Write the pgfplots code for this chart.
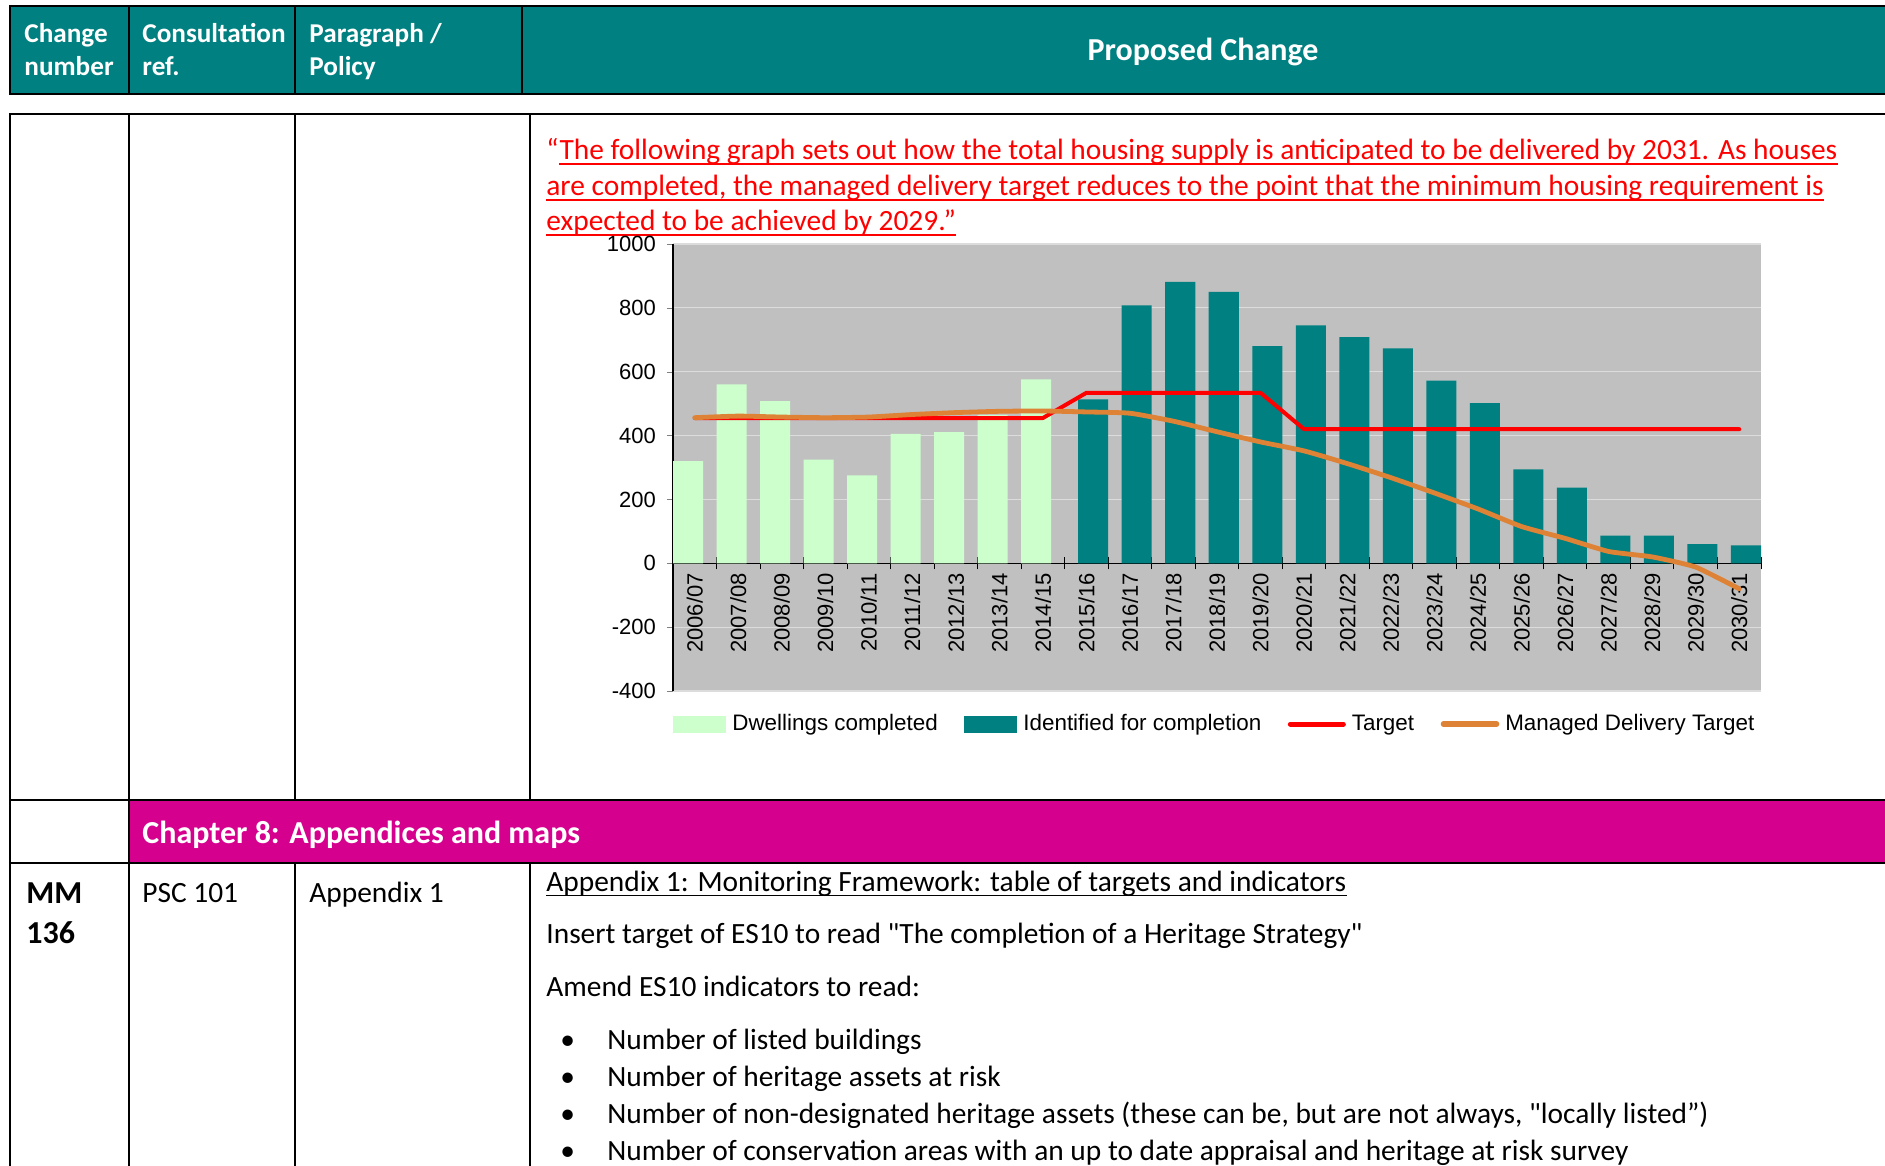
\documentclass[border=0pt]{standalone}
\usepackage{fontspec}
\setmainfont{Carlito}[Ligatures=TeXOff]
\newfontfamily\arialfont{Liberation Sans}
\usepackage{pgfplots}
\pgfplotsset{compat=1.18}
\definecolor{hdrteal}{HTML}{008080}
\definecolor{barteal}{HTML}{008080}
\definecolor{lightgreen}{HTML}{CCFFCC}
\definecolor{chartgray}{HTML}{C0C0C0}
\definecolor{gridc}{HTML}{DCDCDC}
\definecolor{magentabar}{HTML}{D6008F}
\definecolor{mdtorange}{HTML}{DE8236}
\newcommand\chartfont{\arialfont\fontsize{11}{13}\selectfont}
\newcommand\legfont{\arialfont\fontsize{11.2}{13}\selectfont}
\newcommand\hdrfont{\fontsize{13.6}{16.6}\selectfont\bfseries\color{white}}
\newcommand\bodyfont{\fontsize{14.7}{17.9}\selectfont}

\begin{document}
\begin{tikzpicture}
\begin{scope}[x=0.5pt,y=-0.5pt,txt/.style={anchor=base west,inner sep=0pt}]
\useasboundingbox (0,0) rectangle (1885,1166);
% header row
\fill[hdrteal] (10,6) rectangle (1895,94);
\draw[line width=1.3pt] (1895,6) -- (10,6) -- (10,94) -- (1895,94);
\foreach \xx in {129,295,522} \draw[line width=1.3pt] (\xx,6) -- (\xx,94);
\node[txt] at (24,43) {\hdrfont Change};
\node[txt] at (24,76) {\hdrfont number};
\node[txt] at (142,43) {\hdrfont Consultation};
\node[txt] at (142,76) {\hdrfont ref.};
\node[txt] at (309,43) {\hdrfont Paragraph /};
\node[txt] at (309,76) {\hdrfont Policy};
\node[anchor=base,inner sep=0pt] at (1203,61) {\fontsize{16}{19.5}\selectfont\bfseries\color{white}Proposed Change};
% body row with chart
\draw[line width=1.3pt] (1895,114) -- (10,114) -- (10,1175);
\foreach \xx in {129,295,530} \draw[line width=1.3pt] (\xx,114) -- (\xx,800);
% red text
\node[txt] (q1) at (546,160) {\bodyfont\color{red}“};
\node[txt] (r1) at (q1.base east) {\bodyfont\color{red}The following graph sets out how the total housing supply is anticipated to be delivered by 2031. As houses};
\node[txt] (r2) at (546,196) {\bodyfont\color{red}are completed, the managed delivery target reduces to the point that the minimum housing requirement is};
\node[txt] (r3) at (546,231) {\bodyfont\color{red}expected to be achieved by 2029.”};
\foreach \nn in {r1,r2,r3} \draw[red,line width=0.9pt] ([yshift=-2.2pt]\nn.base west) -- ([yshift=-2.2pt]\nn.base east);
% magenta row
\fill[magentabar] (129,800) rectangle (1895,863);
\draw[line width=1.3pt] (10,800) -- (1895,800);
\draw[line width=1.3pt] (10,863) -- (1895,863);
\draw[line width=1.3pt] (129,800) -- (129,863);
\node[txt] at (142,843) {\fontsize{16}{19.5}\selectfont\bfseries\color{white}Chapter 8: Appendices and maps};
% last row
\foreach \xx in {129,295,530} \draw[line width=1.3pt] (\xx,863) -- (\xx,1175);
\node[txt] at (26,903) {\fontsize{16}{19.5}\selectfont\bfseries MM};
\node[txt] at (26,943) {\fontsize{16}{19.5}\selectfont\bfseries 136};
\node[txt] at (142,902) {\bodyfont PSC 101};
\node[txt] at (309,902) {\bodyfont Appendix 1};
\node[txt] (ap) at (546,891) {\bodyfont Appendix 1: Monitoring Framework: table of targets and indicators};
\draw[line width=0.9pt] ([yshift=-2.2pt]ap.base west) -- ([yshift=-2.2pt]ap.base east);
\node[txt] at (546,943) {\bodyfont Insert target of ES10 to read "The completion of a Heritage Strategy"};
\node[txt] at (546,996) {\bodyfont Amend ES10 indicators to read:};
\foreach \yy/\tt in {1049/Number of listed buildings,1086/Number of heritage assets at risk,1123/{Number of non-designated heritage assets (these can be, but are not always, "locally listed”)},1160/Number of conservation areas with an up to date appraisal and heritage at risk survey}{
  \node[txt] at (560,\yy) {\bodyfont •};
  \node[txt] at (607,\yy) {\bodyfont \tt};
}
\end{scope}

\begin{axis}[
  at={(336.5pt,-122pt)}, anchor=north west,
  scale only axis, width=544pt, height=223.5pt,
  xmin=-0.5, xmax=24.5, ymin=-400, ymax=1000,
  axis background/.style={fill=chartgray},
  axis x line*=middle, axis y line*=left,
  hide obscured x ticks=false, hide obscured y ticks=false,
  ytick={-400,-200,...,1000},
  ytick align=outside, major tick length=3pt,
  xtick={0,...,24},
  xticklabels={2006/07,2007/08,2008/09,2009/10,2010/11,2011/12,2012/13,2013/14,2014/15,2015/16,2016/17,2017/18,2018/19,2019/20,2020/21,2021/22,2022/23,2023/24,2024/25,2025/26,2026/27,2027/28,2028/29,2029/30,2030/31},
  major x tick style={draw=none},
  minor xtick={-0.5,0.5,...,24.5},
  minor x tick style={black,line width=0.5pt},
  minor tick length=6pt, xtick align=center,
  ymajorgrids, major y grid style={gridc,line width=0.6pt},
  tick label style={font=\chartfont},
  /pgf/number format/assume math mode=true,
  /pgf/number format/1000 sep={},
  xticklabel style={rotate=90,anchor=east},
  yticklabel style={xshift=-2pt},
  axis line style={black,line width=0.6pt},
  legend columns=4,
  legend style={at={(0,-0.074)},anchor=west,draw=none,fill=none,font=\legfont,inner sep=0pt,
    nodes={inner sep=1pt},
    /tikz/every odd column/.append style={column sep=2pt},
    /tikz/every even column/.append style={column sep=12.3pt}},
]
\addplot[ybar,bar width=0.69,bar shift=-0.155,fill=lightgreen,draw=none,
  legend image code/.code={\fill[lightgreen] (0pt,-4.25pt) rectangle (26.5pt,4.25pt);}]
  coordinates {(0,320) (1,560) (2,508) (3,325) (4,275) (5,405) (6,411) (7,465) (8,576)};
\addplot[ybar,bar width=0.69,bar shift=0.155,fill=barteal,draw=none,
  legend image code/.code={\fill[barteal] (0pt,-4.25pt) rectangle (26.5pt,4.25pt);}]
  coordinates {(9,513) (10,808) (11,881) (12,850) (13,680) (14,745) (15,708) (16,673) (17,572) (18,502) (19,294) (20,237) (21,87) (22,87) (23,60) (24,56)};
\addplot[red,line width=2pt,line cap=round,line join=round,mark=none,
  legend image code/.code={\draw[red,line width=2.5pt,line cap=round] (0pt,0pt) -- (26.5pt,0pt);}]
  coordinates {(0,455) (1,455) (2,455) (3,455) (4,455) (5,455) (6,455) (7,455) (8,455) (9,534) (10,534) (11,534) (12,534) (13,534) (14,420) (15,420) (16,420) (17,420) (18,420) (19,420) (20,420) (21,420) (22,420) (23,420) (24,420)};
\addplot[mdtorange,line width=2.4pt,line cap=round,line join=round,mark=none,smooth,tension=0.3,
  legend image code/.code={\draw[mdtorange,line width=2.8pt,line cap=round] (0pt,0pt) -- (26.5pt,0pt);}]
  coordinates {(0,456) (1,461) (2,458) (3,456) (4,458) (5,466) (6,472) (7,476) (8,477) (9,474) (10,470) (11,445) (12,412) (13,380) (14,352) (15,312) (16,268) (17,220) (18,170) (19,115) (20,78) (21,37) (22,20) (23,-12) (24,-80)};
\legend{Dwellings completed,Identified for completion,Target,Managed Delivery Target}
\end{axis}
\end{tikzpicture}
\end{document}
